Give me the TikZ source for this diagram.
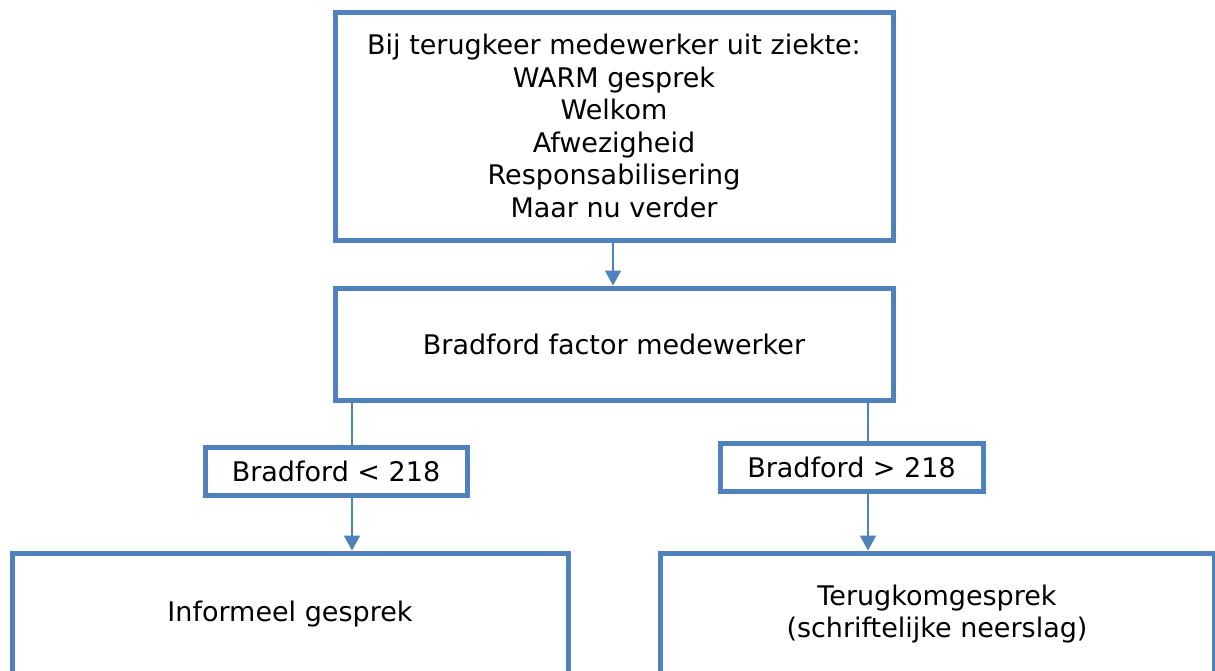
\documentclass[tikz,border=0pt]{standalone}
\usepackage{fontspec}
\setmainfont{DejaVu Sans}
\usetikzlibrary{arrows.meta,calc}
\definecolor{ofblue}{HTML}{4F81BD}
\tikzset{
  boxstyle/.style={draw=ofblue, line width=5pt, rectangle, align=center, inner sep=0pt, fill=white,
    font=\fontsize{27}{32.5}\selectfont},
  conn/.style={draw=ofblue, line width=1.8pt},
  arr/.style={conn, -{Triangle[width=16pt,length=15pt]}}
}
\begin{document}
\begin{tikzpicture}[x=1pt,y=-1pt]
\clip (0,0) rectangle (1215,670);
\fill[white] (0,0) rectangle (1215,670);
\node[boxstyle, minimum width=558pt, minimum height=228pt] (top) at (614,126)
  {Bij terugkeer medewerker uit ziekte:\\WARM gesprek\\Welkom\\Afwezigheid\\Responsabilisering\\Maar nu verder};
\node[boxstyle, minimum width=558pt, minimum height=112pt] (mid) at (614,344) {Bradford factor medewerker};
\node[boxstyle, minimum width=262pt, minimum height=48pt] (ls) at (336,471) {Bradford < 218};
\node[boxstyle, minimum width=263pt, minimum height=48pt] (rs) at (851.5,467) {Bradford > 218};
\node[boxstyle, minimum width=556pt, minimum height=122pt] (lb) at (290,614) {Informeel gesprek};
\node[boxstyle, minimum width=554pt, minimum height=122pt] (rb) at (937,614) {Terugkomgesprek\\(schriftelijke neerslag)};
\coordinate (cx) at (613,0);
\coordinate (lx) at (352,0);
\coordinate (rx) at (868,0);
\draw[arr] (cx |- top.south) -- (cx |- mid.north);
\draw[conn] (lx |- mid.south) -- (lx |- ls.north);
\draw[conn] (rx |- mid.south) -- (rx |- rs.north);
\draw[arr] (lx |- ls.south) -- (lx |- lb.north);
\draw[arr] (rx |- rs.south) -- (rx |- rb.north);
\end{tikzpicture}
\end{document}
